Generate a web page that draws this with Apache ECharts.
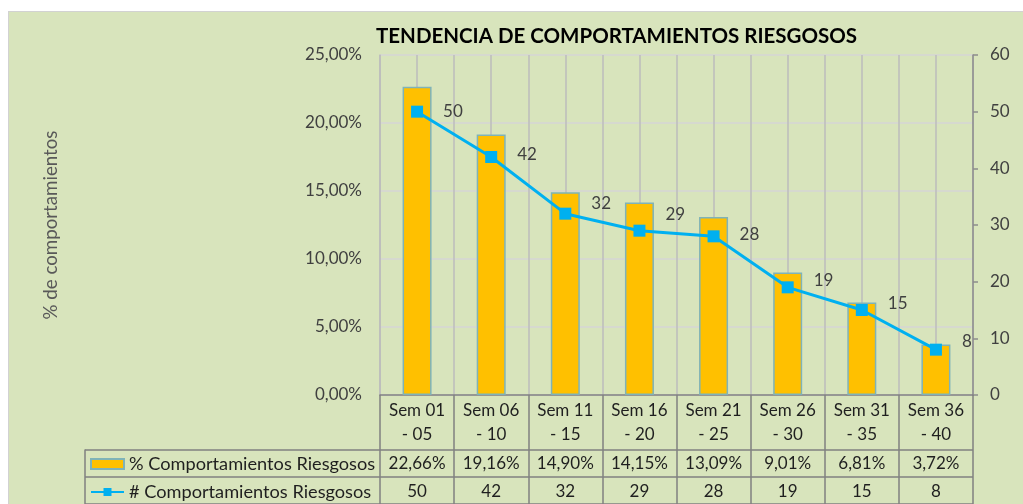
<!DOCTYPE html>
<html>
<head>
<meta charset="utf-8">
<script src="https://cdn.jsdelivr.net/npm/echarts@6/dist/echarts.min.js"></script>
<style>
html,body{margin:0;padding:0;background:#fff;}
#panel{position:absolute;left:8px;top:11px;width:1015px;height:493px;background:#D8E4BC;border-top:1px solid #D2D2D2;border-left:1px solid #D2D2D2;}
#main{position:absolute;left:0;top:0;width:1023px;height:504px;}
</style>
</head>
<body>
<div id="panel"></div>
<div id="main"></div>
<script>
// datos
var semanas = ['Sem 01 - 05', 'Sem 06 - 10', 'Sem 11 - 15', 'Sem 16 - 20', 'Sem 21 - 25', 'Sem 26 - 30', 'Sem 31 - 35', 'Sem 36 - 40'];
var porcentajes = [22.66, 19.16, 14.90, 14.15, 13.09, 9.01, 6.81, 3.72];
var cantidades = [50, 42, 32, 29, 28, 19, 15, 8];
var serieBarra = '% Comportamientos Riesgosos';
var serieLinea = '# Comportamientos Riesgosos';
// ajuste vertical de las etiquetas de la linea (px)
var ajusteEtiqueta = [0, -2, -10, -16, -2, -7, -6, -8];

function fmtPct(v){
	return Number(v).toFixed(2).replace('.', ',') + '%';
}

var myChart = echarts.init(document.getElementById('main'));
var textoTabla = {color: '#1F1F1F', fontSize: 17};

var datosLinea = [];
for(var i=0,l=cantidades.length; i<l; i++){
	datosLinea.push({value: cantidades[i], label: {offset: [0, ajusteEtiqueta[i]]}});
}

var option = {
	backgroundColor: 'transparent',
	textStyle: {fontFamily: 'Lato'},
	animation: false,
	title: {
		text: 'TENDENCIA DE COMPORTAMIENTOS RIESGOSOS',
		left: 371,
		top: 21,
		textStyle: {fontSize: 20.5, fontWeight: 'bold', color: '#000', fontFamily: 'Lato'}
	},
	legend: {
		orient: 'vertical',
		left: 90,
		top: 455,
		padding: 0,
		itemWidth: 33,
		itemHeight: 10,
		itemGap: 10,
		textStyle: {fontSize: 18.2, color: '#1F1F1F', lineHeight: 18},
		data: [{name: serieBarra, icon: 'rect'}, {name: serieLinea}]
	},
	grid: [
		{left: 380, right: 50, top: 55, bottom: 109},
		{left: 85, right: 50, top: 450, height: 56}
	],
	xAxis: [
		{
			type: 'category',
			gridIndex: 0,
			data: semanas,
			axisLine: {lineStyle: {color: '#808080', width: 1.5}},
			axisTick: {show: true, interval: 0, length: 112, lineStyle: {color: '#808080', width: 1.5}},
			axisLabel: {
				interval: 0, margin: 4, lineHeight: 24,
				color: '#1F1F1F', fontSize: 17,
				formatter: function(v){ return v.replace(' - ', '\n- '); }
			},
			splitLine: {show: false}
		},
		{
			type: 'category',
			gridIndex: 0,
			position: 'bottom',
			offset: 55,
			data: porcentajes.map(fmtPct),
			axisLine: {show: false},
			axisTick: {show: false},
			axisLabel: {interval: 0, margin: 5, color: textoTabla.color, fontSize: textoTabla.fontSize}
		},
		{
			type: 'category',
			gridIndex: 0,
			position: 'bottom',
			offset: 83,
			data: cantidades.map(String),
			axisLine: {show: false},
			axisTick: {show: false},
			axisLabel: {interval: 0, margin: 5, color: textoTabla.color, fontSize: textoTabla.fontSize}
		},
		{
			// lineas verticales de la cuadricula (cada media categoria)
			type: 'value',
			gridIndex: 0,
			position: 'top',
			min: 0,
			max: semanas.length * 2,
			interval: 1,
			axisLine: {show: false},
			axisTick: {show: false},
			axisLabel: {show: false},
			splitLine: {show: true, lineStyle: {color: '#BDBDBD', width: 1.5}}
		},
		{
			type: 'value',
			gridIndex: 1,
			show: false,
			min: 0,
			max: 1
		}
	],
	yAxis: [
		{
			type: 'value',
			gridIndex: 0,
			min: 0,
			max: 25,
			interval: 5,
			name: '% de comportamientos',
			nameLocation: 'middle',
			nameRotate: 90,
			nameGap: 320,
			nameTextStyle: {color: '#595959', fontSize: 18.7},
			axisLine: {show: true, lineStyle: {color: '#BDBDBD', width: 1.5}},
			axisTick: {show: false},
			axisLabel: {margin: 18, color: '#404040', fontSize: 17, formatter: fmtPct},
			splitLine: {show: true, lineStyle: {color: '#D6D6D6', width: 1.5}}
		},
		{
			type: 'value',
			gridIndex: 0,
			position: 'right',
			min: 0,
			max: 60,
			interval: 10,
			axisLine: {show: true, lineStyle: {color: '#8C8C8C', width: 1.5}},
			axisTick: {show: true, length: 5, lineStyle: {color: '#8C8C8C', width: 1.5}},
			axisLabel: {margin: 17, color: '#404040', fontSize: 17},
			splitLine: {show: false}
		},
		{
			type: 'category',
			gridIndex: 1,
			inverse: true,
			data: [serieBarra, serieLinea],
			axisLine: {show: true, lineStyle: {color: '#808080', width: 1.5}},
			axisTick: {show: false},
			axisLabel: {show: false},
			splitLine: {show: true, lineStyle: {color: '#808080', width: 1.5}}
		}
	],
	series: [
		{
			name: serieBarra,
			type: 'bar',
			xAxisIndex: 0,
			yAxisIndex: 0,
			barWidth: 29,
			itemStyle: {color: '#FFC000', borderColor: '#7FB3B8', borderWidth: 1.5},
			data: porcentajes
		},
		{
			name: serieLinea,
			type: 'line',
			xAxisIndex: 0,
			yAxisIndex: 1,
			symbol: 'rect',
			symbolSize: 12,
			itemStyle: {color: '#00B0F0'},
			lineStyle: {color: '#00B0F0', width: 3},
			label: {show: true, position: 'right', distance: 20, color: '#404040', fontSize: 17},
			data: datosLinea
		}
	]
};

myChart.setOption(option);
</script>
</body>
</html>
